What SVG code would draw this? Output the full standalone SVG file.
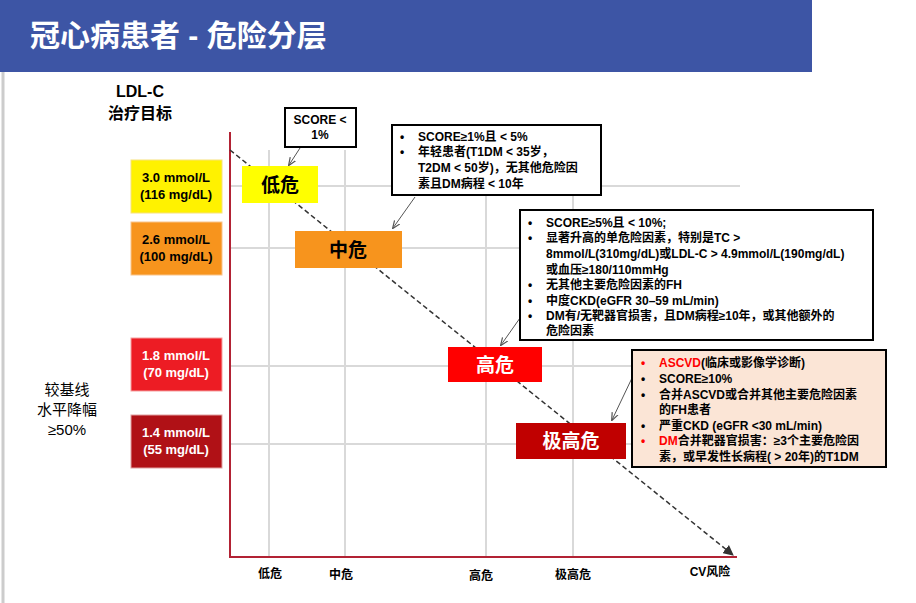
<svg xmlns="http://www.w3.org/2000/svg" width="916" height="603" viewBox="0 0 916 603">
<defs>
<marker id="ah" viewBox="0 0 10 10" refX="9" refY="5" markerWidth="7" markerHeight="7" orient="auto"><path d="M0,0 L10,5 L0,10 z" fill="#333"/></marker>
<marker id="ahs" viewBox="0 0 10 10" refX="9" refY="5" markerWidth="8" markerHeight="8" orient="auto"><path d="M0,1 L10,5 L0,9" fill="none" stroke="#555" stroke-width="1.5"/></marker>
</defs>
<style>
text{font-family:"Liberation Sans","Noto Sans CJK SC",sans-serif}
.grid{stroke:#d9d9d9;stroke-width:2}
.lv{font-size:13px;font-weight:bold;text-anchor:middle}
.rk{font-size:19px;font-weight:bold;text-anchor:middle}
.cb{fill:#fff;stroke:#000;stroke-width:2}
.ct{font-size:12px;font-weight:bold}
.ax{font-size:12px;font-weight:bold;text-anchor:middle}
.call{stroke:#555;stroke-width:1;fill:none}
</style>
<rect width="916" height="603" fill="#fff"/>
<rect x="0" y="0" width="812" height="72" fill="#3d55a5"/>
<text x="30" y="46" font-size="30" font-weight="bold" fill="#fff">冠心病患者 - 危险分层</text>
<line x1="3" y1="72" x2="3" y2="603" stroke="#ccc" stroke-width="3"/>
<text x="140" y="97" font-size="16" font-weight="bold" text-anchor="middle">LDL-C</text>
<text x="140" y="119" font-size="16" font-weight="bold" text-anchor="middle">治疗目标</text>
<g id="grid">
<line class="grid" x1="269" y1="150" x2="269" y2="557"/>
<line class="grid" x1="345" y1="150" x2="345" y2="557"/>
<line class="grid" x1="486" y1="150" x2="486" y2="557"/>
<line class="grid" x1="573" y1="150" x2="573" y2="557"/>
<line class="grid" x1="230" y1="186" x2="740" y2="186"/>
<line class="grid" x1="230" y1="248" x2="740" y2="248"/>
<line class="grid" x1="230" y1="366" x2="740" y2="366"/>
<line class="grid" x1="230" y1="444" x2="740" y2="444"/>
</g>
<g id="connectors">
<line x1="230" y1="132" x2="230" y2="558" stroke="#b22234" stroke-width="2"/>
<line x1="229" y1="557" x2="737" y2="557" stroke="#b22234" stroke-width="2"/>
<line x1="230" y1="150" x2="733" y2="555" stroke="#333" stroke-width="1.5" stroke-dasharray="5,3" marker-end="url(#ah)"/>
<line class="call" x1="300" y1="148" x2="289" y2="165" marker-end="url(#ahs)"/>
<line class="call" x1="415" y1="197" x2="393" y2="228" marker-end="url(#ahs)"/>
<line class="call" x1="520" y1="318" x2="501" y2="345" marker-end="url(#ahs)"/>
<line class="call" x1="632" y1="378" x2="612" y2="420" marker-end="url(#ahs)"/>
</g>
<g id="targets">
<g id="t30"><rect x="131" y="160" width="91" height="53" fill="#fff200" stroke="#f7e27a"/><text class="lv" x="176" y="182">3.0 mmol/L</text><text class="lv" x="176" y="199">(116 mg/dL)</text></g>
<g id="t26"><rect x="131" y="222" width="91" height="53" fill="#f7941d" stroke="#f9c48a"/><text class="lv" x="176" y="244">2.6 mmol/L</text><text class="lv" x="176" y="261">(100 mg/dL)</text></g>
<g id="t18"><rect x="131" y="338" width="91" height="53" fill="#ed1c24" stroke="#f5a0a0"/><text class="lv" x="176" y="360" fill="#fff">1.8 mmol/L</text><text class="lv" x="176" y="377" fill="#fff">(70 mg/dL)</text></g>
<g id="t14"><rect x="131" y="415" width="91" height="53" fill="#b01116" stroke="#e0a0a0"/><text class="lv" x="176" y="437" fill="#fff">1.4 mmol/L</text><text class="lv" x="176" y="454" fill="#fff">(55 mg/dL)</text></g>
</g>
<g id="baseline">
<text x="67" y="395" font-size="15" text-anchor="middle">较基线</text>
<text x="67" y="415" font-size="15" text-anchor="middle">水平降幅</text>
<text x="67" y="435" font-size="15" text-anchor="middle">≥50%</text>
</g>
<g id="risk-low"><rect x="242" y="166" width="76" height="37" fill="#ffff00"/><text class="rk" x="280" y="192">低危</text></g>
<g id="risk-mid"><rect x="295" y="231" width="107" height="37" fill="#f7941d"/><text class="rk" x="348" y="257">中危</text></g>
<g id="risk-high"><rect x="448" y="347" width="94" height="35" fill="#ff0000"/><text class="rk" x="495" y="372" fill="#fff">高危</text></g>
<g id="risk-vhigh"><rect x="516" y="423" width="110" height="36" fill="#c00000"/><text class="rk" x="571" y="448" fill="#fff">极高危</text></g>
<g id="c1"><rect class="cb" x="285" y="108" width="71" height="39"/><text class="ct" x="320" y="124" text-anchor="middle" font-weight="normal">SCORE &lt;</text><text class="ct" x="320" y="139" text-anchor="middle" font-weight="normal">1%</text></g>
<g id="c2"><rect class="cb" x="392" y="125" width="209" height="70"/>
<text class="ct" x="400" y="141">•</text><text class="ct" x="418" y="141">SCORE≥1%且 &lt; 5%</text>
<text class="ct" x="400" y="156">•</text><text class="ct" x="418" y="156">年轻患者(T1DM &lt; 35岁，</text>
<text class="ct" x="418" y="172">T2DM &lt; 50岁)，无其他危险因</text>
<text class="ct" x="418" y="188">素且DM病程 &lt; 10年</text></g>
<g id="c3"><rect class="cb" x="520" y="210" width="353" height="130"/>
<text class="ct" x="528" y="227">•</text><text class="ct" x="546" y="227">SCORE≥5%且 &lt; 10%;</text>
<text class="ct" x="528" y="242">•</text><text class="ct" x="546" y="242">显著升高的单危险因素，特别是TC &gt;</text>
<text class="ct" x="546" y="258">8mmol/L(310mg/dL)或LDL-C &gt; 4.9mmol/L(190mg/dL)</text>
<text class="ct" x="546" y="274">或血压≥180/110mmHg</text>
<text class="ct" x="528" y="289">•</text><text class="ct" x="546" y="289">无其他主要危险因素的FH</text>
<text class="ct" x="528" y="305">•</text><text class="ct" x="546" y="305">中度CKD(eGFR 30–59 mL/min)</text>
<text class="ct" x="528" y="320">•</text><text class="ct" x="546" y="320">DM有/无靶器官损害，且DM病程≥10年，或其他额外的</text>
<text class="ct" x="546" y="335">危险因素</text></g>
<g id="c4"><rect x="632" y="350" width="254" height="117" fill="#fbe5d6" stroke="#000" stroke-width="2"/>
<text class="ct" x="641" y="367" fill="#f00">•</text><text class="ct" x="659" y="367"><tspan fill="#f00">ASCVD</tspan>(临床或影像学诊断)</text>
<text class="ct" x="641" y="383">•</text><text class="ct" x="659" y="383">SCORE≥10%</text>
<text class="ct" x="641" y="399">•</text><text class="ct" x="659" y="399">合并ASCVD或合并其他主要危险因素</text>
<text class="ct" x="659" y="414">的FH患者</text>
<text class="ct" x="641" y="430">•</text><text class="ct" x="659" y="430">严重CKD (eGFR &lt;30 mL/min)</text>
<text class="ct" x="641" y="445" fill="#f00">•</text><text class="ct" x="659" y="445"><tspan fill="#f00">DM</tspan>合并靶器官损害：≥3个主要危险因</text>
<text class="ct" x="659" y="461">素，或早发性长病程( &gt; 20年)的T1DM</text></g>
<g id="xlabels">
<text class="ax" x="270" y="578">低危</text>
<text class="ax" x="341" y="579">中危</text>
<text class="ax" x="481" y="580">高危</text>
<text class="ax" x="573" y="579">极高危</text>
<text class="ax" x="710" y="576">CV风险</text>
</g>
</svg>
